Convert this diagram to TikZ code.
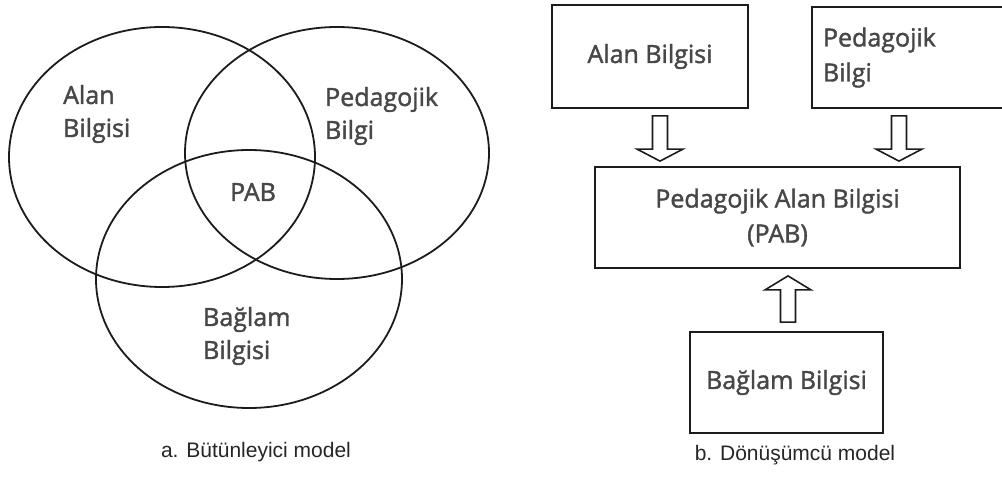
\documentclass[tikz,border=0pt]{standalone}
\usepackage{fontspec}
\setmainfont{Open Sans}
\newfontfamily\lblfont{Open Sans}[RawFeature={embolden=1.6}]
\newfontfamily\capfont{Liberation Sans}
\usetikzlibrary{calc}
\definecolor{txtgray}{HTML}{474747}
\definecolor{linegray}{HTML}{1C1C1C}
\tikzset{
  outline/.style={draw=linegray, line width=1.8pt},
  lbl/.style={text=txtgray, inner sep=0pt, align=left,
    font=\lblfont\fontsize{25}{33}\selectfont},
  box/.style={outline, text=txtgray, inner sep=0pt, align=center,
    font=\lblfont\fontsize{25}{35}\selectfont},
  caption/.style={text=black!85, inner sep=0pt,
    font=\capfont\fontsize{21}{24}\selectfont},
  blockline/.style={draw=linegray, line width=1.6pt, fill=white, line join=miter}
}
\newcommand{\hollowarrow}[3]{%
  \coordinate (hb) at ($(#2)!#3!(#1)$);
  \draw[blockline] ($(#1)!7.5pt!90:(#2)$) -- ($(hb)!7.5pt!90:(#2)$)
    -- ($(hb)!23pt!90:(#2)$) -- (#2) -- ($(hb)!23pt!-90:(#2)$)
    -- ($(hb)!7.5pt!-90:(#2)$) -- ($(#1)!7.5pt!-90:(#2)$) -- cycle;
}
\begin{document}
\begin{tikzpicture}[x=1pt,y=-1pt]
\useasboundingbox (0,0) rectangle (1002,484);
\fill[white] (0,0) rectangle (1002,484);

\draw[outline] (162,157) ellipse [x radius=153pt, y radius=130pt];
\draw[outline] (337,153) ellipse [x radius=152pt, y radius=126pt];
\draw[outline] (249,279) ellipse [x radius=153pt, y radius=129pt];

\node[lbl, anchor=west] (valan) at (63,114) {Alan\\Bilgisi};
\node[lbl, anchor=west] (vped) at (325,116) {Pedagojik\\Bilgi};
\node[lbl] (vpab) at (253,192) {PAB};
\node[lbl, anchor=west] (vbag) at (203,336) {Bağlam\\Bilgisi};
\node[caption] (capa) at (256,452) {a. Bütünleyici model};

\node[box, minimum width=196pt, minimum height=103pt] (alan) at (650,56.5) {Alan Bilgisi};
\node[box, align=left, inner xsep=11pt, text width=196pt, minimum height=101pt] (ped) at (921,57.5) {Pedagojik\\Bilgi};
\node[box, minimum width=365pt, minimum height=101pt] (pab) at (777.5,217.5) {Pedagojik Alan Bilgisi\\(PAB)};
\node[box, minimum width=193pt, minimum height=101pt] (bag) at (786.5,382.5) {Bağlam Bilgisi};
\node[caption] (capb) at (795,455) {b. Dönüşümcü model};

\coordinate (a1t) at ([xshift=10pt,yshift=-7pt]alan.south);
\coordinate (a1h) at ($(a1t |- pab.north)+(0,-5)$);
\coordinate (a2t) at ([xshift=-22pt,yshift=-7pt]ped.south);
\coordinate (a2h) at ($(a2t |- pab.north)+(0,-5)$);
\coordinate (a3t) at ($(bag.north)+(1.5,-9)$);
\coordinate (a3h) at ($(a3t |- pab.south)+(0,7)$);
\hollowarrow{a1t}{a1h}{12pt}
\hollowarrow{a2t}{a2h}{12pt}
\hollowarrow{a3t}{a3h}{14pt}
\end{tikzpicture}
\end{document}
